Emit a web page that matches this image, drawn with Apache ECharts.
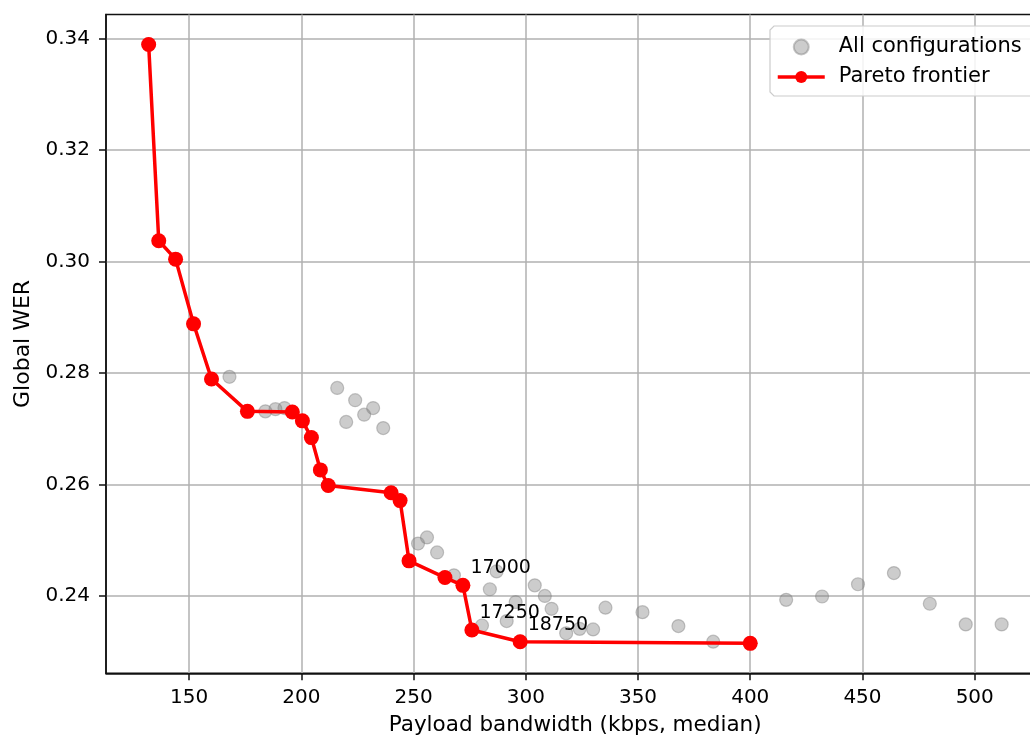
<!DOCTYPE html>
<html>
<head>
<meta charset="utf-8">
<script src="https://cdn.jsdelivr.net/npm/echarts@6/dist/echarts.min.js"></script>
<style>
html,body{margin:0;padding:0;background:#fff;}
#chart{width:1030px;height:740px;}
</style>
</head>
<body>
<div id="chart"></div>
<script>
// ---- data ----
const frontierX = [132, 136.5, 144, 152, 160, 176, 196, 200.5, 204.5, 208.5, 212, 240, 244, 248, 264, 272, 276, 297.5, 400];
const frontierY = [0.3389, 0.3037, 0.3004, 0.2888, 0.2789, 0.2731, 0.2730, 0.2714, 0.2684, 0.2626, 0.2598, 0.2585, 0.2571, 0.2463, 0.2433, 0.2419, 0.2339, 0.2318, 0.2315];
const frontierLabels = ['', '', '', '', '', '', '', '', '', '', '', '', '', '', '', '17000', '17250', '18750', ''];
const otherX = [168, 184, 188.5, 192.5, 216, 220, 224, 228, 232, 236.5, 252, 256, 260.5, 268, 280.5, 284, 287, 291.5, 295.5, 304, 308.5, 311.5, 318, 324, 330, 335.5, 352, 368, 383.5, 416, 432, 448, 464, 480, 496, 512];
const otherY = [0.2793, 0.2731, 0.2735, 0.2737, 0.2773, 0.2712, 0.2751, 0.2725, 0.2737, 0.2701, 0.2494, 0.2505, 0.2478, 0.2437, 0.2347, 0.2412, 0.2444, 0.2355, 0.2389, 0.2419, 0.2400, 0.2377, 0.2333, 0.2341, 0.2340, 0.2379, 0.2371, 0.2346, 0.2318, 0.2393, 0.2399, 0.2421, 0.2441, 0.2386, 0.2349, 0.2349];
const xTicks = [150, 200, 250, 300, 350, 400, 450, 500];
const yTicks = [0.24, 0.26, 0.28, 0.30, 0.32, 0.34];
const seriesNames = ['All configurations', 'Pareto frontier'];
const xName = 'Payload bandwidth (kbps, median)';
const yName = 'Global WER';

// ---- build ----
const allPts = otherX.map((x, i) => [x, otherY[i]])
  .concat(frontierX.map((x, i) => [x, frontierY[i]]));
const frontierPts = frontierX.map((x, i) => ({
  value: [x, frontierY[i]],
  label: { show: frontierLabels[i] !== '', formatter: frontierLabels[i] }
}));

const FONT = 'DejaVu Sans';
const chart = echarts.init(document.getElementById('chart'), null, {renderer: 'canvas'});
chart.setOption({
  animation: false,
  backgroundColor: '#ffffff',
  textStyle: { fontFamily: FONT, color: '#000' },
  grid: {
    left: 106, top: 14.5, right: -14.3, bottom: 66.7,
    containLabel: false, outerBoundsMode: 'none',
    show: true, borderColor: '#111', borderWidth: 1.5, backgroundColor: 'transparent'
  },
  graphic: [
    {
      type: 'rect', z: 50, silent: true,
      shape: { x: 770, y: 26, width: 330, height: 70, r: 4 },
      style: { fill: 'rgba(255,255,255,0.85)', stroke: null, lineWidth: 0 }
    },
    {
      type: 'polyline', z: 51, silent: true,
      shape: { points: [[1100, 26], [774, 26], [770, 30], [770, 92], [774, 96], [1100, 96]] },
      style: { fill: null, stroke: '#cccccc', lineWidth: 1.2 }
    }
  ],
  legend: {
    orient: 'vertical', left: 770, top: 28, z: 60,
    itemWidth: 47, itemHeight: 15, itemGap: 8,
    padding: [8, 10, 9, 6],
    lineStyle: { width: 3.5 },
    textStyle: { fontSize: 21, color: '#000', fontFamily: FONT, padding: [0, 0, 0, 9], lineHeight: 22 },
    data: seriesNames
  },
  xAxis: {
    type: 'value', min: 113, max: 531,
    name: xName, nameLocation: 'middle', nameGap: 41,
    nameTextStyle: { fontSize: 21.5, color: '#000', fontFamily: FONT },
    axisLine: { show: true, lineStyle: { color: '#111', width: 1.5 } },
    axisTick: { show: true, length: 7, lineStyle: { color: '#111', width: 1.5 }, customValues: xTicks },
    axisLabel: { fontSize: 20, color: '#000', fontFamily: FONT, margin: 14, customValues: xTicks },
    splitLine: { show: true, lineStyle: { color: '#b0b0b0', width: 1.5 } }
  },
  yAxis: {
    type: 'value', min: 0.22613, max: 0.34427,
    name: yName, nameLocation: 'middle', nameGap: 71, nameRotate: 90,
    nameTextStyle: { fontSize: 22, color: '#000', fontFamily: FONT },
    axisLine: { show: true, lineStyle: { color: '#111', width: 1.5 } },
    axisTick: { show: true, length: 7, lineStyle: { color: '#111', width: 1.5 }, customValues: yTicks },
    axisLabel: { fontSize: 20, color: '#000', fontFamily: FONT, margin: 16, customValues: yTicks,
      formatter: v => v.toFixed(2) },
    splitLine: { show: true, lineStyle: { color: '#b0b0b0', width: 1.5 } }
  },
  series: [
    {
      name: seriesNames[0], type: 'scatter', data: allPts,
      symbol: 'circle', symbolSize: 13,
      itemStyle: { color: 'rgba(128,128,128,0.5)', borderColor: 'rgba(128,128,128,0.55)', borderWidth: 1.2 },
      z: 2
    },
    {
      name: seriesNames[1], type: 'line', data: frontierPts,
      symbol: 'circle', symbolSize: 15, showSymbol: true,
      lineStyle: { color: '#ff0000', width: 3.5 },
      itemStyle: { color: '#ff0000' },
      label: { show: false, position: [15, 0], align: 'left', verticalAlign: 'bottom',
        fontSize: 19, color: '#000', fontFamily: FONT },
      z: 3
    }
  ]
});
</script>
</body>
</html>
